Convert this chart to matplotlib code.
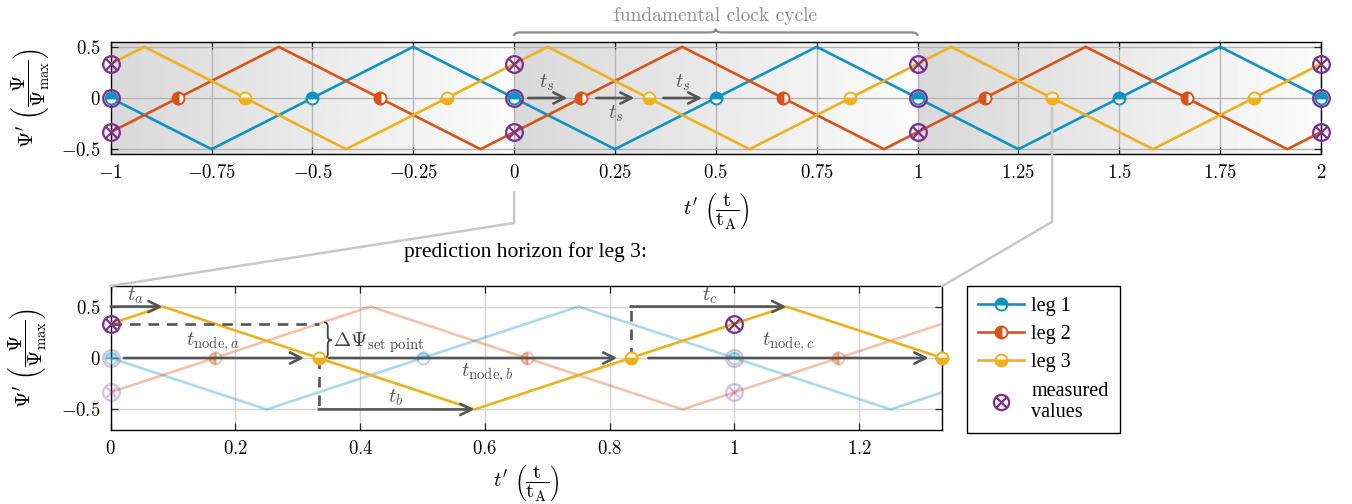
import numpy as np
import matplotlib
matplotlib.use('Agg')
import matplotlib.pyplot as plt
from matplotlib.path import Path
from matplotlib.patches import PathPatch
from matplotlib.lines import Line2D
import matplotlib.transforms as mtransforms

plt.rcParams['mathtext.fontset'] = 'cm'
plt.rcParams['font.family'] = ['cmr10', 'DejaVu Sans']
plt.rcParams['axes.unicode_minus'] = False

# ---------------- data ----------------
leg1_t = [-1, -0.75, -0.25, 0.25, 0.75, 1.25, 1.75, 2]
leg1_y = [0, -0.5, 0.5, -0.5, 0.5, -0.5, 0.5, 0]
leg2_t = [-1, -7/12, -1/12, 5/12, 11/12, 17/12, 23/12, 2]
leg2_y = [-1/3, 0.5, -0.5, 0.5, -0.5, 0.5, -0.5, -1/3]
leg3_t = [-1, -11/12, -5/12, 1/12, 7/12, 13/12, 19/12, 2]
leg3_y = [1/3, 0.5, -0.5, 0.5, -0.5, 0.5, -0.5, 1/3]

leg1_nodes = [-1, -0.5, 0, 0.5, 1, 1.5, 2]
leg2_nodes = [-5/6, -1/3, 1/6, 2/3, 7/6, 5/3]
leg3_nodes = [-2/3, -1/6, 1/3, 5/6, 4/3, 11/6]

meas_t = [-1, 0, 1, 2]
meas_leg1 = [0, 0, 0, 0]
meas_leg2 = [-1/3, -1/3, -1/3, -1/3]
meas_leg3 = [1/3, 1/3, 1/3, 1/3]

top_xticks = [-1, -0.75, -0.5, -0.25, 0, 0.25, 0.5, 0.75, 1, 1.25, 1.5, 1.75, 2]
top_xticklabels = ['$-1$', '$-0.75$', '$-0.5$', '$-0.25$', '$0$', '$0.25$', '$0.5$',
                   '$0.75$', '$1$', '$1.25$', '$1.5$', '$1.75$', '$2$']
bot_xticks = [0, 0.2, 0.4, 0.6, 0.8, 1.0, 1.2]
bot_xticklabels = ['$0$', '$0.2$', '$0.4$', '$0.6$', '$0.8$', '$1$', '$1.2$']
yticks = [-0.5, 0, 0.5]
yticklabels = ['$-0.5$', '$0$', '$0.5$']

# arrows in top plot (t_s)
ts_arrows = [(0.035, 0.132), (0.204, 0.298), (0.370, 0.466)]
ts_labels = [(0.082, 0.15), (0.251, -0.155), (0.418, 0.15)]

# bottom annotations
ta_arrow = (0.0, 0.083, 0.5)
tb_arrow = (1/3, 0.583, -0.5)
tc_arrow = (5/6, 1.083, 0.5)
tnode_arrows = [(0.021, 0.31), (0.35, 0.812), (0.862, 1.311)]
setpoint_dash = (0.0, 1/3, 1/3)
dash_b = (1/3, 0.0, -0.5)
dash_c = (5/6, 0.0, 0.5)

# ---------------- style ----------------
C1 = '#1193c2'
C2 = '#d95319'
C3 = '#edb120'
CM = '#7e2f8e'
AR = '#555555'
LW = 1.9
MS = 8.6
MMS = 12

circ = Path.unit_circle()
s = np.sqrt(0.5)
xpath = Path([(-s, -s), (s, s), (-s, s), (s, -s)],
             [Path.MOVETO, Path.LINETO, Path.MOVETO, Path.LINETO])
otimes = Path.make_compound_path(circ, xpath)

W, H = 1352, 504
fig = plt.figure(figsize=(W / 100, H / 100), dpi=100)
ax1 = fig.add_axes([110.7 / W, 1 - 154.3 / H, (1321 - 110.7) / W, (154.3 - 41.7) / H])
ax2 = fig.add_axes([110.7 / W, 1 - 430 / H, (942.4 - 110.7) / W, (430 - 286) / H])

YLAB = r"$\mathit{\Psi}'\ \left(\dfrac{\mathit{\Psi}}{\mathit{\Psi}_{\max}}\right)$"
XLAB = r"$t'\ \left(\dfrac{\mathrm{t}}{\mathrm{t_A}}\right)$"


def half_markers(ax, x, y, color, fs, alpha=1.0, z=4):
    ax.plot(x, y, ls='none', marker='o', ms=MS, mew=1.4, mec=color, mfc=color,
            fillstyle=fs, markerfacecoloralt='white', alpha=alpha, zorder=z, clip_on=False)


def meas_markers(ax, x, y, alpha=1.0, cross=True, z=5):
    ax.plot(x, y, ls='none', marker=otimes if cross else 'o', ms=MMS, mew=1.6, mec=CM,
            mfc='none', alpha=alpha, zorder=z, clip_on=False)


def style_axes(ax):
    ax.tick_params(direction='in', top=True, right=True, length=5, width=0.9,
                   labelsize=13.5, pad=7, color='#262626')
    ax.grid(True, color='#b4b4b4', lw=1.0)
    ax.set_axisbelow(True)
    for sp in ax.spines.values():
        sp.set_linewidth(1.0)
    ax.set_yticks(yticks)
    ax.set_yticklabels(yticklabels)


def arrow(ax, x0, y0, x1, y1, lw=1.9):
    ax.annotate('', xy=(x1, y1), xytext=(x0, y0),
                arrowprops=dict(arrowstyle='->', color=AR, lw=lw, shrinkA=0, shrinkB=0,
                                mutation_scale=20), zorder=6, annotation_clip=False)


def brace(x0, x1, y0, h, r, vertical=False):
    xm = (x0 + x1) / 2
    yf = y0 + h / 2
    pts = [(x0, y0), (x0, yf), (x0 + r, yf), (xm - r, yf), (xm, yf), (xm, y0 + h),
           (xm, yf), (xm + r, yf), (x1 - r, yf), (x1, yf), (x1, y0)]
    codes = [Path.MOVETO, Path.CURVE3, Path.CURVE3, Path.LINETO, Path.CURVE3, Path.CURVE3,
             Path.CURVE3, Path.CURVE3, Path.LINETO, Path.CURVE3, Path.CURVE3]
    if vertical:
        pts = [(b, a) for a, b in pts]
    return Path(pts, codes)


def place_labels(ax, xl_y, yl_x):
    ax.set_xlabel(XLAB, fontsize=15)
    ax.set_ylabel(YLAB, fontsize=15)
    ax.xaxis.set_label_coords(0.5, xl_y)
    ax.xaxis.label.set_va('center')
    ax.yaxis.set_label_coords(yl_x, 0.5)
    ax.yaxis.label.set_va('center')


# ---------------- top axes ----------------
grad = np.linspace(0.85, 0.985, 256).reshape(1, -1)
for k in [-1, 0, 1]:
    ax1.imshow(grad, extent=[k, k + 1, -0.55, 0.55], cmap='gray', vmin=0, vmax=1,
               aspect='auto', zorder=0, interpolation='bilinear')

ax1.plot(leg1_t, leg1_y, color=C1, lw=LW, zorder=3)
ax1.plot(leg2_t, leg2_y, color=C2, lw=LW, zorder=3)
ax1.plot(leg3_t, leg3_y, color=C3, lw=LW, zorder=3)
half_markers(ax1, leg1_nodes, [0] * len(leg1_nodes), C1, 'top')
half_markers(ax1, leg2_nodes, [0] * len(leg2_nodes), C2, 'left')
half_markers(ax1, leg3_nodes, [0] * len(leg3_nodes), C3, 'bottom')
meas_markers(ax1, meas_t, meas_leg1, cross=False)
meas_markers(ax1, meas_t, meas_leg2)
meas_markers(ax1, meas_t, meas_leg3)

for (a, b) in ts_arrows:
    arrow(ax1, a, 0, b, 0)
for (x, y) in ts_labels:
    ax1.text(x, y, '$t_s$', color=AR, fontsize=15, ha='center', va='center', zorder=7)

ax1.set_xlim(-1, 2)
ax1.set_ylim(-0.55, 0.55)
ax1.set_xticks(top_xticks)
ax1.set_xticklabels(top_xticklabels)
style_axes(ax1)
place_labels(ax1, (154.3 - 212) / 112.6, (31 - 110.7) / 1210.3)

# brace "fundamental clock cycle"
btr = mtransforms.blended_transform_factory(ax1.transData, ax1.transAxes)
bp = brace(0, 1, 1.05, 0.065, 0.015)
fig.add_artist(PathPatch(bp, transform=btr, fc='none', ec='#8c8c8c', lw=1.6, clip_on=False))
ax1.text(0.5, 1.225, 'fundamental clock cycle', transform=btr, ha='center', va='center',
         color='#8c8c8c', fontsize=14, family='cmr10')

# ---------------- bottom axes ----------------
FA = 0.35
ax2.plot(leg1_t, leg1_y, color=C1, lw=LW, alpha=FA, zorder=3)
ax2.plot(leg2_t, leg2_y, color=C2, lw=LW, alpha=FA, zorder=3)
ax2.plot(leg3_t, leg3_y, color=C3, lw=LW, zorder=4)
bot_l1 = [n for n in leg1_nodes if 0 <= n <= 4/3]
bot_l2 = [n for n in leg2_nodes if 0 <= n <= 4/3]
bot_l3 = [n for n in leg3_nodes if 0 <= n <= 4/3]
half_markers(ax2, bot_l1, [0] * len(bot_l1), C1, 'top', alpha=FA)
half_markers(ax2, bot_l2, [0] * len(bot_l2), C2, 'left', alpha=FA)
half_markers(ax2, bot_l3, [0] * len(bot_l3), C3, 'bottom', z=8)
bot_meas_t = meas_t[1:3]
meas_markers(ax2, bot_meas_t, meas_leg1[1:3], alpha=0.3, cross=False)
meas_markers(ax2, bot_meas_t, meas_leg2[1:3], alpha=0.3)
meas_markers(ax2, bot_meas_t, meas_leg3[1:3], z=8)

# dashed helpers
ax2.plot([setpoint_dash[0], setpoint_dash[1]], [setpoint_dash[2]] * 2, ls=(0, (4, 3)),
         color=AR, lw=1.9, zorder=5)
ax2.plot([dash_b[0]] * 2, [dash_b[1], dash_b[2]], ls=(0, (4, 3)), color=AR, lw=1.9, zorder=5)
ax2.plot([dash_c[0]] * 2, [dash_c[1], dash_c[2]], ls=(0, (4, 3)), color=AR, lw=1.9, zorder=5)

# arrows
for (a, b, y) in [ta_arrow, tb_arrow, tc_arrow]:
    arrow(ax2, a, y, b, y)
for (a, b) in tnode_arrows:
    arrow(ax2, a, 0, b, 0)

ax2.text(0.04, 0.51, '$t_a$', color=AR, fontsize=15, ha='center', va='bottom', zorder=7)
ax2.text(0.457, -0.49, '$t_b$', color=AR, fontsize=15, ha='center', va='bottom', zorder=7)
ax2.text(0.96, 0.51, '$t_c$', color=AR, fontsize=15, ha='center', va='bottom', zorder=7)
ax2.text(0.164, 0.035, r'$t_{\mathrm{node},a}$', color=AR, fontsize=15, ha='center',
         va='bottom', zorder=7)
ax2.text(0.604, -0.03, r'$t_{\mathrm{node},b}$', color=AR, fontsize=15, ha='center',
         va='top', zorder=7)
ax2.text(1.086, 0.035, r'$t_{\mathrm{node},c}$', color=AR, fontsize=15, ha='center',
         va='bottom', zorder=7)

vb = brace(0.0, 0.347, 0.342, 0.012, 0.04, vertical=True)
ax2.add_patch(PathPatch(vb, fc='none', ec='#444444', lw=1.3, zorder=7))
ax2.text(0.357, 0.15, r'$\Delta\mathit{\Psi}_{\mathrm{set\ point}}$', color='#444444',
         fontsize=15, ha='left', va='center', zorder=7)

ax2.set_xlim(0, 4/3)
ax2.set_ylim(-0.7, 0.7)
ax2.set_xticks(bot_xticks)
ax2.set_xticklabels(bot_xticklabels)
style_axes(ax2)
ax2.grid(True, color='#d2d2d2', lw=1.0)
place_labels(ax2, (430 - 484) / 144, (28 - 110.7) / 831.7)

fig.text(525 / W, 1 - 252 / H, 'prediction horizon for leg 3:', ha='center', va='center',
         fontsize=15.5, family='Liberation Serif')

# connection lines
inv = fig.transFigure.inverted()


def to_fig(ax, x, y, ycoord='data'):
    if ycoord == 'data':
        p = ax.transData.transform((x, y))
    else:
        p = mtransforms.blended_transform_factory(ax.transData, ax.transAxes).transform((x, y))
    return inv.transform(p)


p1 = [to_fig(ax1, 0, -0.34, 'axes'), to_fig(ax1, 0, -0.61, 'axes'), to_fig(ax2, 0, 1, 'axes')]
p2 = [to_fig(ax1, 4/3, -0.1), to_fig(ax1, 4/3, -0.6, 'axes'), to_fig(ax2, 4/3, 1, 'axes')]
for pts in (p1, p2):
    xs = [p[0] for p in pts]
    ys = [p[1] for p in pts]
    fig.add_artist(Line2D(xs, ys, transform=fig.transFigure, color='#c8c8c8', lw=1.8, zorder=1))

# legend
handles = [
    Line2D([], [], color=C1, lw=LW, marker='o', ms=MS, mew=1.4, mec=C1, mfc=C1,
           fillstyle='top', markerfacecoloralt='white'),
    Line2D([], [], color=C2, lw=LW, marker='o', ms=MS, mew=1.4, mec=C2, mfc=C2,
           fillstyle='left', markerfacecoloralt='white'),
    Line2D([], [], color=C3, lw=LW, marker='o', ms=MS, mew=1.4, mec=C3, mfc=C3,
           fillstyle='bottom', markerfacecoloralt='white'),
    Line2D([], [], ls='none', marker=otimes, ms=MMS - 1, mew=1.6, mec=CM, mfc='none'),
]
labels = ['leg 1', 'leg 2', 'leg 3', 'measured\nvalues']
leg = fig.legend(handles, labels, loc='upper left', bbox_to_anchor=(967 / W, 1 - 286 / H),
                 prop={'family': 'Liberation Serif', 'size': 14.5}, frameon=True,
                 fancybox=False, edgecolor='black', framealpha=1, handlelength=2.3,
                 handletextpad=0.35, labelspacing=0.45, borderpad=0.55, borderaxespad=0)
leg.get_frame().set_linewidth(1.0)
leg.get_texts()[3].set_linespacing(1.2)

fig.savefig('out.png', dpi=100)
